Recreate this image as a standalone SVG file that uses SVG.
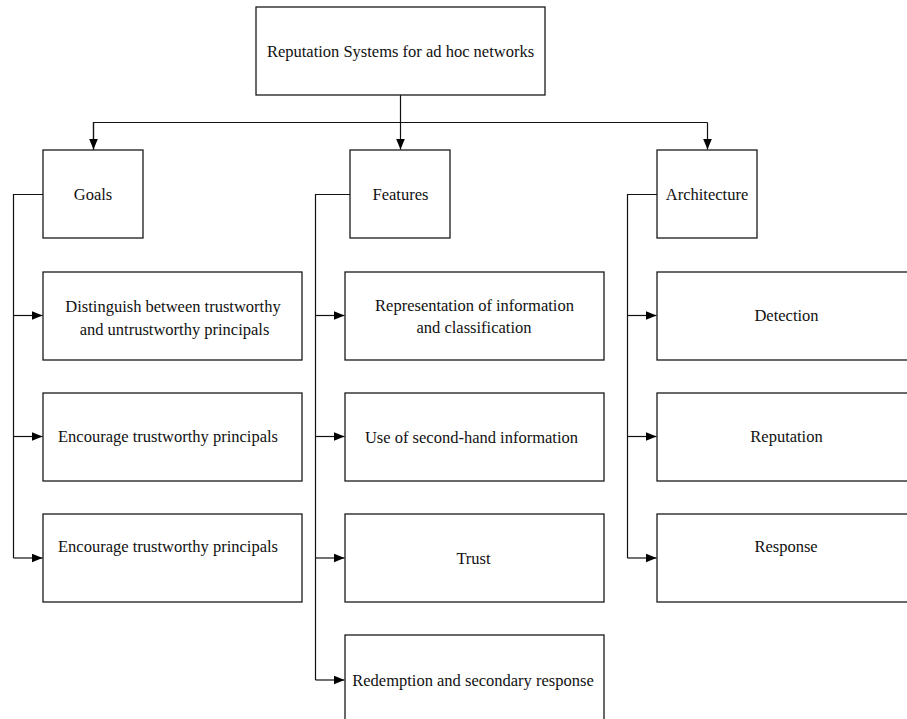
<svg xmlns="http://www.w3.org/2000/svg" width="907" height="719" viewBox="0 0 907 719">
<style>
.box{fill:#fff;stroke:#1a1a1a;stroke-width:1.3}
.ln{fill:none;stroke:#111;stroke-width:1.2}
.t{font-size:16.5px;fill:#111;text-anchor:middle}
</style>
<defs>
<marker id="ah" markerUnits="userSpaceOnUse" markerWidth="12" markerHeight="10" refX="11" refY="4.5" orient="auto">
<path d="M0,0 L11,4.5 L0,9 z" fill="#000"/>
</marker>
</defs>
<rect width="907" height="719" fill="#fff"/>
<g id="connectors">
<path class="ln" d="M400.5,95 V149.5" marker-end="url(#ah)"/>
<path class="ln" d="M93.5,150 V122.5 H707.5"/>
<path class="ln" d="M93.5,122.5 V149.5" marker-end="url(#ah)"/>
<path class="ln" d="M707.5,122.5 V149.5" marker-end="url(#ah)"/>
<path class="ln" d="M43,194.5 H13.5 V558"/>
<path class="ln" d="M13.5,315.5 H42.5" marker-end="url(#ah)"/>
<path class="ln" d="M13.5,436.5 H42.5" marker-end="url(#ah)"/>
<path class="ln" d="M13.5,558 H42.5" marker-end="url(#ah)"/>
<path class="ln" d="M350,194.5 H315.5 V680"/>
<path class="ln" d="M315.5,315.5 H344.5" marker-end="url(#ah)"/>
<path class="ln" d="M315.5,436.5 H344.5" marker-end="url(#ah)"/>
<path class="ln" d="M315.5,558 H344.5" marker-end="url(#ah)"/>
<path class="ln" d="M315.5,680 H344.5" marker-end="url(#ah)"/>
<path class="ln" d="M657,194.5 H627.5 V558"/>
<path class="ln" d="M627.5,315.5 H656.5" marker-end="url(#ah)"/>
<path class="ln" d="M627.5,436.5 H656.5" marker-end="url(#ah)"/>
<path class="ln" d="M627.5,558 H656.5" marker-end="url(#ah)"/>
</g>
<g font-family="'Liberation Serif', 'Times New Roman', 'DejaVu Serif', serif">
<g id="root"><rect class="box" x="256" y="7" width="289" height="88"/><text class="t" x="400.5" y="56.5">Reputation Systems for ad hoc networks</text></g>
<g id="goals"><rect class="box" x="43" y="150" width="100" height="88"/><text class="t" x="93" y="200">Goals</text></g>
<g id="features"><rect class="box" x="350" y="150" width="100" height="88"/><text class="t" x="400.5" y="200">Features</text></g>
<g id="architecture"><rect class="box" x="657" y="150" width="100" height="88"/><text class="t" x="707" y="200">Architecture</text></g>
<g id="goal1"><rect class="box" x="43" y="272" width="259" height="88"/><text class="t" x="173" y="311.5">Distinguish between trustworthy</text><text class="t" x="174.5" y="335">and untrustworthy principals</text></g>
<g id="goal2"><rect class="box" x="43" y="393" width="259" height="88"/><text class="t" x="168" y="442">Encourage trustworthy principals</text></g>
<g id="goal3"><rect class="box" x="43" y="514" width="259" height="88"/><text class="t" x="168" y="552">Encourage trustworthy principals</text></g>
<g id="feat1"><rect class="box" x="345" y="272" width="259" height="88"/><text class="t" x="474.5" y="310.5">Representation of information</text><text class="t" x="474" y="333">and classification</text></g>
<g id="feat2"><rect class="box" x="345" y="393" width="259" height="88"/><text class="t" x="471.5" y="443">Use of second-hand information</text></g>
<g id="feat3"><rect class="box" x="345" y="514" width="259" height="88"/><text class="t" x="473.5" y="564">Trust</text></g>
<g id="feat4"><rect class="box" x="345" y="635" width="259" height="88"/><text class="t" x="473" y="686">Redemption and secondary response</text></g>
<g id="arch1"><rect class="box" x="657" y="272" width="259" height="88"/><text class="t" x="786.5" y="321">Detection</text></g>
<g id="arch2"><rect class="box" x="657" y="393" width="259" height="88"/><text class="t" x="786.5" y="442">Reputation</text></g>
<g id="arch3"><rect class="box" x="657" y="514" width="259" height="88"/><text class="t" x="786" y="552">Response</text></g>
</g>
</svg>
